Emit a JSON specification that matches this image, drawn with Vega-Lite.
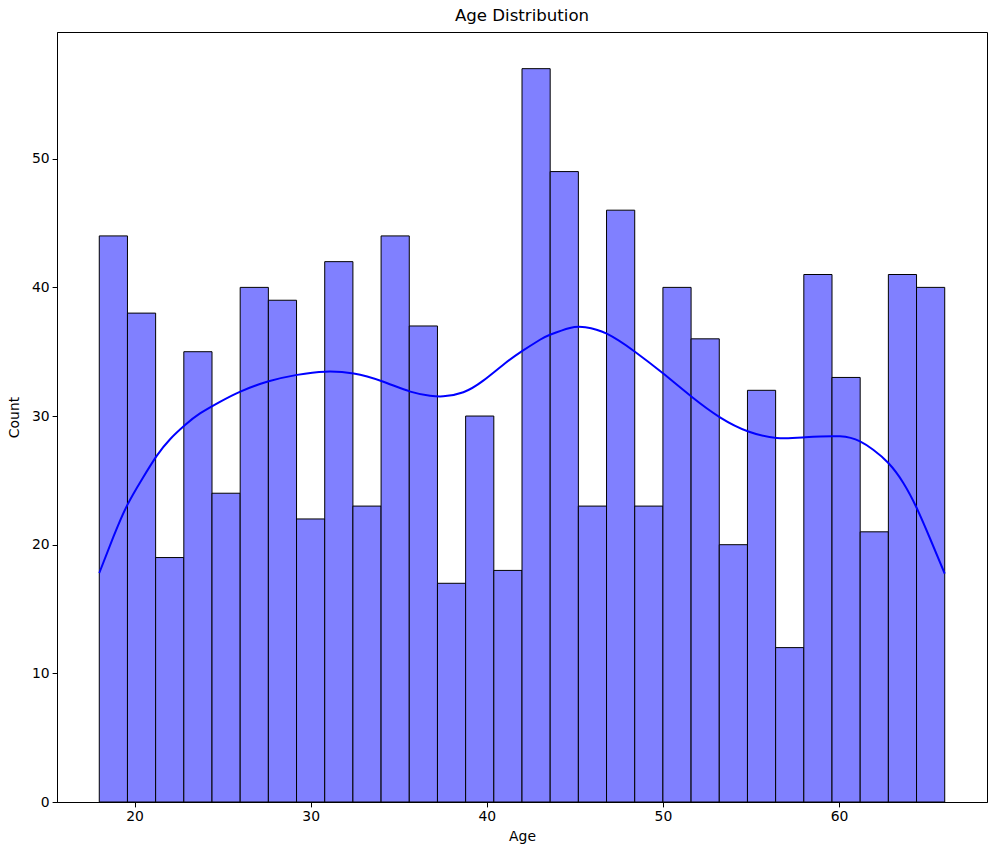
{
  "$schema": "https://vega.github.io/schema/vega-lite/v6.json",
  "width": 930,
  "height": 770,
  "autosize": {"type": "none"},
  "padding": {"left": 57, "top": 32, "right": 9, "bottom": 53},
  "background": "white",
  "title": {"text": "Age Distribution", "font": "DejaVu Sans", "fontSize": 16.6, "fontWeight": "normal", "color": "black", "offset": 7},
  "config": {
    "view": {"stroke": "black", "strokeWidth": 1},
    "axis": {
      "labelFont": "DejaVu Sans", "labelFontSize": 13.9, "labelColor": "black",
      "titleFont": "DejaVu Sans", "titleFontSize": 13.9, "titleFontWeight": "normal", "titleColor": "black",
      "tickColor": "black", "tickSize": 4.9, "domainColor": "black", "grid": false, "labelPadding": 3
    }
  },
  "datasets": {
    "bins": [
      {"start": 18.0, "end": 19.6, "count": 44},
      {"start": 19.6, "end": 21.2, "count": 38},
      {"start": 21.2, "end": 22.8, "count": 19},
      {"start": 22.8, "end": 24.4, "count": 35},
      {"start": 24.4, "end": 26.0, "count": 24},
      {"start": 26.0, "end": 27.6, "count": 40},
      {"start": 27.6, "end": 29.2, "count": 39},
      {"start": 29.2, "end": 30.8, "count": 22},
      {"start": 30.8, "end": 32.4, "count": 42},
      {"start": 32.4, "end": 34.0, "count": 23},
      {"start": 34.0, "end": 35.6, "count": 44},
      {"start": 35.6, "end": 37.2, "count": 37},
      {"start": 37.2, "end": 38.8, "count": 17},
      {"start": 38.8, "end": 40.4, "count": 30},
      {"start": 40.4, "end": 42.0, "count": 18},
      {"start": 42.0, "end": 43.6, "count": 57},
      {"start": 43.6, "end": 45.2, "count": 49},
      {"start": 45.2, "end": 46.8, "count": 23},
      {"start": 46.8, "end": 48.4, "count": 46},
      {"start": 48.4, "end": 50.0, "count": 23},
      {"start": 50.0, "end": 51.6, "count": 40},
      {"start": 51.6, "end": 53.2, "count": 36},
      {"start": 53.2, "end": 54.8, "count": 20},
      {"start": 54.8, "end": 56.4, "count": 32},
      {"start": 56.4, "end": 58.0, "count": 12},
      {"start": 58.0, "end": 59.6, "count": 41},
      {"start": 59.6, "end": 61.2, "count": 33},
      {"start": 61.2, "end": 62.8, "count": 21},
      {"start": 62.8, "end": 64.4, "count": 41},
      {"start": 64.4, "end": 66.0, "count": 40}
    ],
    "kde": [
      {"age": 18.0, "density": 17.8},
      {"age": 18.8, "density": 20.6},
      {"age": 19.56, "density": 23.0},
      {"age": 20.41, "density": 25.05},
      {"age": 21.26, "density": 26.9},
      {"age": 22.02, "density": 28.2},
      {"age": 22.87, "density": 29.3},
      {"age": 23.72, "density": 30.2},
      {"age": 24.85, "density": 31.1},
      {"age": 26.01, "density": 31.9},
      {"age": 27.62, "density": 32.7},
      {"age": 29.23, "density": 33.2},
      {"age": 30.83, "density": 33.45},
      {"age": 32.44, "density": 33.3},
      {"age": 34.05, "density": 32.7},
      {"age": 35.66, "density": 31.9},
      {"age": 36.78, "density": 31.58},
      {"age": 37.53, "density": 31.53},
      {"age": 38.67, "density": 31.85},
      {"age": 39.8, "density": 32.75},
      {"age": 40.94, "density": 33.99},
      {"age": 41.98, "density": 35.02},
      {"age": 43.02, "density": 35.93},
      {"age": 43.59, "density": 36.32},
      {"age": 44.72, "density": 36.85},
      {"age": 45.6, "density": 36.9},
      {"age": 46.81, "density": 36.4},
      {"age": 48.41, "density": 35.0},
      {"age": 50.02, "density": 33.3},
      {"age": 51.63, "density": 31.5},
      {"age": 53.24, "density": 29.9},
      {"age": 54.85, "density": 28.8},
      {"age": 56.46, "density": 28.3},
      {"age": 58.07, "density": 28.35},
      {"age": 60.05, "density": 28.42},
      {"age": 61.19, "density": 28.03},
      {"age": 61.94, "density": 27.38},
      {"age": 62.8, "density": 26.35},
      {"age": 63.65, "density": 24.8},
      {"age": 64.41, "density": 22.85},
      {"age": 65.16, "density": 20.5},
      {"age": 66.0, "density": 17.75}
    ]
  },
  "layer": [
    {
      "data": {"name": "bins"},
      "mark": {"type": "rect", "fill": "#8080ff", "stroke": "black", "strokeWidth": 1},
      "encoding": {
        "x": {"field": "start", "type": "quantitative", "scale": {"domain": [15.6, 68.4], "nice": false, "zero": false},
              "axis": {"title": "Age", "values": [20, 30, 40, 50, 60], "titlePadding": 6}},
        "x2": {"field": "end"},
        "y": {"field": "count", "type": "quantitative", "scale": {"domain": [0, 59.85], "nice": false},
              "axis": {"title": "Count", "values": [0, 10, 20, 30, 40, 50], "titlePadding": 10}},
        "y2": {"datum": 0}
      }
    },
    {
      "data": {"name": "kde"},
      "mark": {"type": "line", "color": "#0000ff", "strokeWidth": 2, "interpolate": "natural"},
      "encoding": {
        "x": {"field": "age", "type": "quantitative"},
        "y": {"field": "density", "type": "quantitative"}
      }
    }
  ]
}
